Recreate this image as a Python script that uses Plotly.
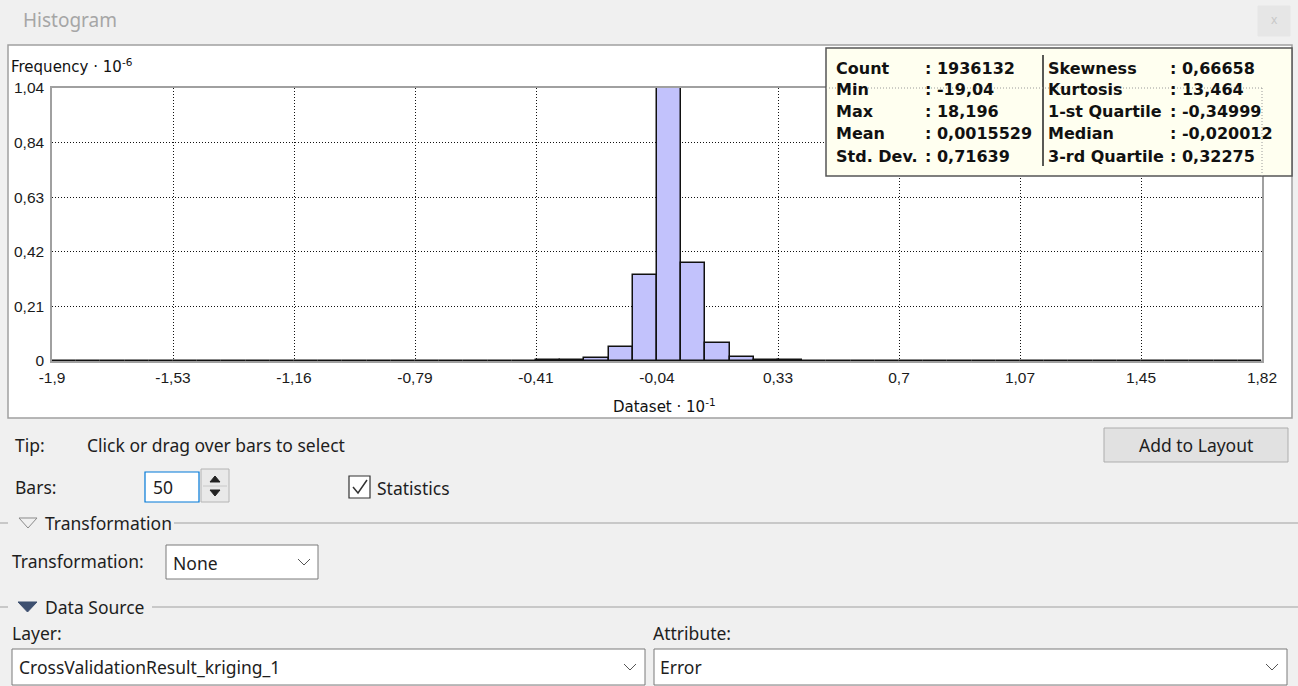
import numpy as np
import plotly.graph_objects as go

# --- data ---
data_min = -1.904          # Dataset * 10^-1
data_max = 1.8196
n_bars = 50
# bar heights, Frequency * 10^-6
frequency = [0.0004, 0, 0, 0, 0.0003, 0, 0, 0, 0, 0,
             0.0003, 0.0003, 0, 0.0004, 0.0005, 0.0006, 0.0008, 0.0010, 0.0013, 0.0018,
             0.0024, 0.0040, 0.0127, 0.0545, 0.3276, 1.0400, 0.3745, 0.0670, 0.0164, 0.0032,
             0.0020, 0.0014, 0.0010, 0.0008, 0.0006, 0.0005, 0.0004, 0.0004, 0.0003, 0.0003,
             0.0003, 0.0002, 0.0002, 0.0002, 0.0002, 0.0002, 0, 0.0001, 0, 0.0001]
x_tick_labels = ["-1,9", "-1,53", "-1,16", "-0,79", "-0,41", "-0,04", "0,33", "0,7", "1,07", "1,45", "1,82"]
y_max = 1.04
y_tick_labels = ["0", "0,21", "0,42", "0,63", "0,84", "1,04"]

stats_left = [("Count", "1936132"), ("Min", "-19,04"), ("Max", "18,196"),
              ("Mean", "0,0015529"), ("Std. Dev.", "0,71639")]
stats_right = [("Skewness", "0,66658"), ("Kurtosis", "13,464"), ("1-st Quartile", "-0,34999"),
               ("Median", "-0,020012"), ("3-rd Quartile", "0,32275")]

W, H = 1298, 686
UI_FONT = "Noto Sans"
UI_SIZE = 17.5
TXT = "#1e1e1e"

def px(x):
    return x / W

def py(y):
    return 1 - y / H

def rect(x0, y0, x1, y1, fill, line="#a0a0a0", lw=1, layer="below", dash="solid"):
    return dict(type="rect", xref="paper", yref="paper", x0=px(x0), x1=px(x1), y0=py(y0), y1=py(y1),
                fillcolor=fill, line=dict(color=line, width=lw, dash=dash), layer=layer)

def line(x0, y0, x1, y1, color="#a0a0a0", lw=1, dash="solid", layer="above"):
    return dict(type="line", xref="paper", yref="paper", x0=px(x0), x1=px(x1), y0=py(y0), y1=py(y1),
                line=dict(color=color, width=lw, dash=dash), layer=layer)

def path(points, fill="rgba(0,0,0,0)", color="#333", lw=1, close=False):
    d = "M " + " L ".join(f"{px(x):.5f},{py(y):.5f}" for x, y in points) + (" Z" if close else "")
    return dict(type="path", xref="paper", yref="paper", path=d, fillcolor=fill,
                line=dict(color=color, width=lw), layer="above")

def text(x, y, s, size=UI_SIZE, color=TXT, family=UI_FONT, anchor="left", bold=False):
    if bold:
        s = f"<b>{s}</b>"
    return dict(x=px(x), y=py(y), xref="paper", yref="paper", text=s, showarrow=False,
                xanchor=anchor, yanchor="middle", font=dict(size=size, color=color, family=family))

bin_w = (data_max - data_min) / n_bars
centers = data_min + bin_w * (np.arange(n_bars) + 0.5)
x_ticks = np.linspace(data_min, data_max, len(x_tick_labels))
y_ticks = np.linspace(0, y_max, len(y_tick_labels))

fig = go.Figure(go.Bar(x=centers, y=frequency, width=bin_w,
                       marker=dict(color="#c2c2fc", line=dict(color="#111111", width=1.5)),
                       hoverinfo="x+y"))

shapes = [
    # chart panel
    rect(8, 45, 1292, 418, "white", "#a0a0a0", 1.5),
    # close button
    rect(1258, 6, 1290, 36, "#e6e6e6", "#e6e6e6", 1),
    # statistics box
    rect(826, 48, 1292, 176, "#fffff0", "#555555", 1.5, layer="above"),
    line(1043, 55, 1043, 166, "#222222", 1.5),
    line(826, 88, 1262, 88, "#9a9a9a", 1, dash="1px,2px"),
    line(1262, 88, 1262, 176, "#9a9a9a", 1, dash="1px,2px"),
    # Add to Layout button
    rect(1104, 428, 1288, 462, "#e1e1e1", "#adadad", 1),
    # Bars spin box
    rect(145, 472, 199, 502, "white", "#0078d7", 1.2),
    rect(201, 469, 229, 502, "#e9e9e9", "#b4b4b4", 1),
    line(203, 486, 227, 486, "#c8c8c8", 1),
    path([(210, 482), (215, 476), (220, 482)], fill="#222", color="#222", close=True),
    path([(210, 490), (215, 496), (220, 490)], fill="#222", color="#222", close=True),
    # Statistics checkbox
    rect(349, 476, 370, 498, "white", "#333333", 1.2),
    path([(353, 487), (358, 493), (367, 480)], color="#333", lw=1.5),
    # Transformation group
    line(0, 523, 8, 523, "#a0a0a0", 1),
    path([(19, 518), (37, 518), (28, 528)], color="#8a8a8a", lw=1, close=True),
    line(174, 523, 1298, 523, "#a0a0a0", 1),
    rect(166, 545, 318, 579, "white", "#7a7a7a", 1),
    path([(298, 559), (304, 565), (310, 559)], color="#555", lw=1),
    # Data Source group
    line(0, 607, 8, 607, "#a0a0a0", 1),
    path([(18, 602), (37, 602), (27.5, 612)], fill="#3e5070", color="#3e5070", close=True),
    line(152, 607, 1298, 607, "#a0a0a0", 1),
    rect(12, 649, 645, 685, "white", "#7a7a7a", 1),
    path([(624, 664), (630, 670), (636, 664)], color="#555", lw=1),
    rect(654, 649, 1287, 685, "white", "#7a7a7a", 1),
    path([(1266, 664), (1272, 670), (1278, 664)], color="#555", lw=1),
]

annotations = [
    text(21, 20, "Histogram", 19, "#a6a6a6"),
    text(1274, 20, "x", 12, "#c8c8c8", anchor="center"),
    text(9, 66, "Frequency · 10<sup>-6</sup>", 15, "#111", "DejaVu Sans"),
    text(664, 406, "Dataset · 10<sup>-1</sup>", 15, "#111", "DejaVu Sans", anchor="center"),
    text(13, 445, "Tip:"),
    text(85, 445, "Click or drag over bars to select"),
    text(1196, 445, "Add to Layout", anchor="center"),
    text(13, 487, "Bars:"),
    text(151, 487, "50"),
    text(375, 488, "Statistics"),
    text(43, 523, "Transformation"),
    text(10, 561, "Transformation:"),
    text(171, 563, "None"),
    text(43, 607, "Data Source"),
    text(10, 633, "Layer:"),
    text(651, 633, "Attribute:"),
    text(17, 667, "CrossValidationResult_kriging_1"),
    text(658, 667, "Error"),
]

row_y = [68, 90, 112, 134, 156]
for (lab, val), y in zip(stats_left, row_y):
    annotations.append(text(834, y, lab, 16, "#111", "DejaVu Sans", bold=True))
    annotations.append(text(923, y, ": " + val, 16, "#111", "DejaVu Sans", bold=True))
for (lab, val), y in zip(stats_right, row_y):
    annotations.append(text(1046, y, lab, 16, "#111", "DejaVu Sans", bold=True))
    annotations.append(text(1168, y, ": " + val, 16, "#111", "DejaVu Sans", bold=True))

axis_common = dict(showline=True, linecolor="#a0a0a0", linewidth=1.5, mirror=True,
                   showgrid=True, gridcolor="#111111", gridwidth=1, griddash="1px,2px",
                   zeroline=False, ticks="", fixedrange=True, automargin=False,
                   tickfont=dict(family="Liberation Sans", size=15.5, color="#1a1a1a"))

fig.update_layout(
    width=W, height=H, autosize=False,
    margin=dict(l=0, r=0, t=0, b=0, pad=0, autoexpand=False),
    paper_bgcolor="#f0f0f0", plot_bgcolor="white",
    showlegend=False, bargap=0,
    xaxis=dict(axis_common, domain=[px(52), px(1262)], range=[data_min, data_max],
               tickvals=x_ticks, ticktext=x_tick_labels, ticklabelstandoff=2),
    yaxis=dict(axis_common, domain=[py(361), py(88)], range=[0, y_max],
               tickvals=y_ticks, ticktext=y_tick_labels, ticklabelstandoff=3),
    shapes=shapes,
    annotations=annotations,
)

# drop the page's default body margin right away (outside the newPlot promise),
# so the 1298x686 figure sits exactly in the window
reset_margin = ("}); document.body.style.margin='0'; "
                "document.body.style.overflow='hidden'; (function(){")
fig.write_html("out.html", config=dict(displayModeBar=False), post_script=reset_margin)
